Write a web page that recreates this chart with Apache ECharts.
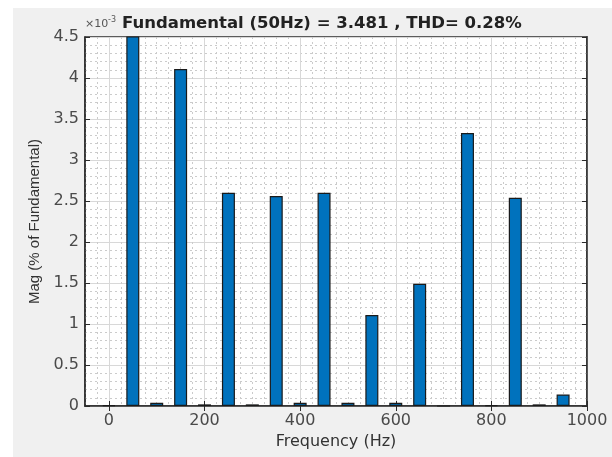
<!DOCTYPE html>
<html>
<head>
<meta charset="utf-8">
<script src="https://cdn.jsdelivr.net/npm/echarts@6/dist/echarts.min.js"></script>
<style>
  html, body { margin: 0; padding: 0; background: #fff; }
  #fft { width: 612px; height: 457px; }
</style>
</head>
<body>
<div id="fft"></div>
<script>
// harmonic frequencies (Hz) and magnitudes (x10^-3 % of fundamental)
const freqs = [0, 50, 100, 150, 200, 250, 300, 350, 400, 450,
               500, 550, 600, 650, 700, 750, 800, 850, 900, 950];
// 50 Hz bar runs off the top of the axis, so it is clipped
const mags = [0.01, 5.0, 0.04, 4.11, 0.02, 2.60, 0.02, 2.56, 0.04, 2.60,
              0.04, 1.11, 0.04, 1.49, 0, 3.33, 0.01, 2.54, 0.02, 0.14];
const xTicks = [0, 200, 400, 600, 800, 1000];

const chart = echarts.init(document.getElementById("fft"));
const font = "DejaVu Sans";
const frame = "#2b2b2b";
const dotted = { color: "#cbcbcb", type: [2, 3], width: 1 };

const option = {
  backgroundColor: "#f0f0f0",
  animation: false,
  textStyle: { fontFamily: font },
  title: {
    text: "Fundamental (50Hz) = 3.481 , THD= 0.28%",
    left: 122,
    top: 15,
    padding: 0,
    textStyle: { fontSize: 16.5, fontWeight: "bold", color: "#222", fontFamily: font },
  },
  graphic: [
    { type: "rect", shape: { x: 0, y: 0, width: 612, height: 8 }, style: { fill: "#fff" }, silent: true },
    { type: "rect", shape: { x: 0, y: 0, width: 13, height: 457 }, style: { fill: "#fff" }, silent: true },
    { type: "text", left: 85, top: 19, style: { text: "×10", fill: "#555", font: "11px DejaVu Sans" } },
    { type: "text", left: 108, top: 16, style: { text: "-3", fill: "#555", font: "8px DejaVu Sans" } },
  ],
  grid: {
    left: 85,
    top: 37,
    width: 502,
    height: 369,
    show: true,
    backgroundColor: "#fff",
    borderColor: frame,
    borderWidth: 1.5,
  },
  xAxis: [
    {
      // fine dotted grid every 25 Hz
      type: "value",
      min: -50,
      max: 1000,
      interval: 25,
      position: "top",
      axisLine: { show: false },
      axisTick: { show: false },
      axisLabel: { show: false },
      splitLine: { show: true, lineStyle: dotted },
    },
    {
      type: "value",
      min: -50,
      max: 1000,
      interval: 50,
      position: "bottom",
      name: "Frequency (Hz)",
      nameLocation: "middle",
      nameGap: 24,
      nameTextStyle: { fontSize: 16, color: "#333", fontFamily: font },
      axisLine: { show: true, onZero: false, lineStyle: { color: frame, width: 1.5 } },
      axisTick: { show: true, inside: true, length: 5, customValues: xTicks, lineStyle: { color: frame } },
      axisLabel: { customValues: xTicks, fontSize: 16, color: "#4a4a4a", margin: 7, formatter: (v) => String(v) },
      splitLine: { show: true, lineStyle: { color: "#d8d8d8", width: 1 } },
    },
    {
      // ticks along the top edge of the box
      type: "value",
      min: -50,
      max: 1000,
      interval: 50,
      position: "top",
      axisLine: { show: false },
      axisTick: { show: true, inside: true, length: 5, customValues: xTicks, lineStyle: { color: frame } },
      axisLabel: { show: false },
      splitLine: { show: false },
    },
  ],
  yAxis: [
    {
      type: "value",
      min: 0,
      max: 4.5,
      interval: 0.5,
      name: "Mag (% of Fundamental)",
      nameLocation: "middle",
      nameGap: 38,
      nameTextStyle: { fontSize: 15, color: "#333", fontFamily: "Liberation Sans" },
      axisLine: { show: true, onZero: false, lineStyle: { color: frame, width: 1.5 } },
      axisTick: { show: true, inside: true, length: 5, lineStyle: { color: frame } },
      axisLabel: { fontSize: 16, color: "#4a4a4a", margin: 6 },
      splitLine: { show: true, lineStyle: { color: "#d8d8d8", width: 1 } },
      minorTick: { show: false, splitNumber: 5 },
      minorSplitLine: { show: true, lineStyle: dotted },
    },
    {
      type: "value",
      min: 0,
      max: 4.5,
      interval: 0.5,
      position: "right",
      axisLine: { show: true, onZero: false, lineStyle: { color: frame, width: 1.5 } },
      axisTick: { show: true, inside: true, length: 5, lineStyle: { color: frame } },
      axisLabel: { show: false },
      splitLine: { show: false },
    },
  ],
  series: [
    {
      type: "bar",
      xAxisIndex: 1,
      yAxisIndex: 0,
      barWidth: 13,
      clip: true,
      itemStyle: { color: "#0072BD", borderColor: "#1a1a1a", borderWidth: 1.2 },
      data: freqs.map((f, i) => [f, mags[i]]),
    },
  ],
};

chart.setOption(option);
</script>
</body>
</html>
